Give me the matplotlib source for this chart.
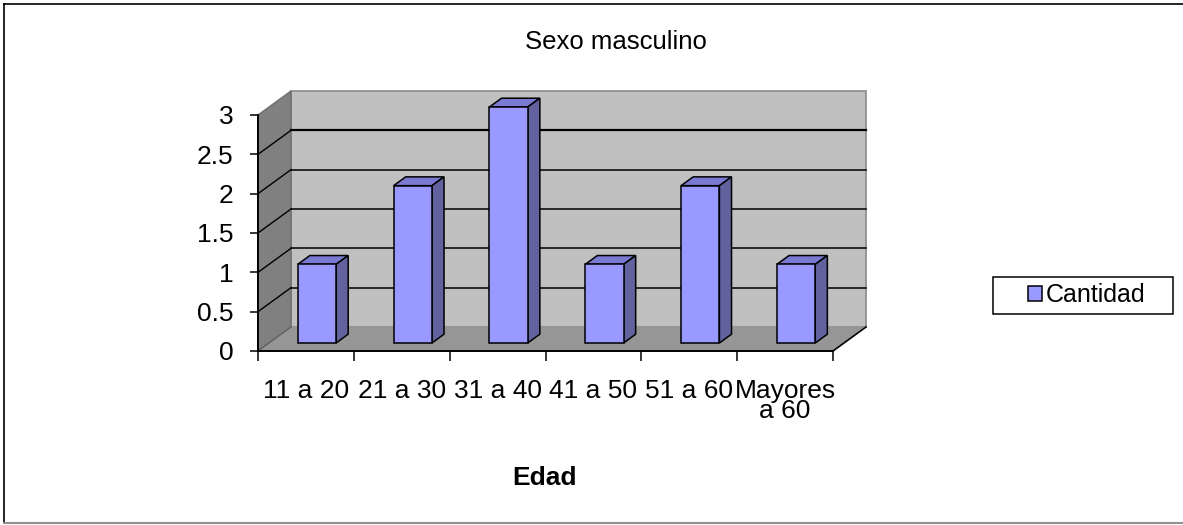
import matplotlib
matplotlib.use("Agg")
from matplotlib import pyplot as plt
from matplotlib.patches import Polygon, Rectangle
from matplotlib.lines import Line2D

plt.rcParams['font.family'] = ['Liberation Sans', 'DejaVu Sans']

categorias = ["11 a 20", "21 a 30", "31 a 40", "41 a 50", "51 a 60", "Mayores\na 60"]
cantidad = [1, 2, 3, 1, 2, 1]
y_ticks = [0, 0.5, 1, 1.5, 2, 2.5, 3]
y_labels = ["0", "0.5", "1", "1.5", "2", "2.5", "3"]

W, H = 1183, 525
fig = plt.figure(figsize=(W / 100, H / 100), dpi=100)

# front plane of the 3d box, in pixels
x0, x1, y0, y1 = 258, 833, 351, 115
ax = fig.add_axes([x0 / W, 1 - y0 / H, (x1 - x0) / W, (y0 - y1) / H])
n = len(categorias)
ax.set_xlim(0, n)
ax.set_ylim(0, 3)
ax.patch.set_visible(False)

# depth of the box (data units)
dx = 33 / ((x1 - x0) / n)
dy = 24 / ((y0 - y1) / 3)

wall_back = '#c0c0c0'
wall_side = '#808080'
floor_c = '#969696'

ax.add_patch(Polygon([(dx, dy), (n + dx, dy), (n + dx, 3 + dy), (dx, 3 + dy)],
                     closed=True, fc=wall_back, ec='#8a8a8a', lw=1.2, clip_on=False, zorder=0))
ax.add_patch(Polygon([(0, 0), (0, 3), (dx, 3 + dy), (dx, dy)],
                     closed=True, fc=wall_side, ec='#707070', lw=1, clip_on=False, zorder=0))
ax.add_patch(Polygon([(0, 0), (n, 0), (n + dx, dy), (dx, dy)],
                     closed=True, fc=floor_c, ec='none', clip_on=False, zorder=1))
ax.plot([n, n + dx], [0, dy], color='black', lw=1.2, clip_on=False, zorder=1.5)
ax.plot([0, dx], [0, dy], color='#606060', lw=1, clip_on=False, zorder=1.5)

for v in y_ticks[1:-1]:
    ax.plot([dx, n + dx], [v + dy, v + dy], color='black', lw=1.6 if v == 2.5 else 1.1,
            clip_on=False, zorder=0.5)
    ax.plot([0, dx], [v, v + dy], color='black', lw=1.0, clip_on=False, zorder=0.5)

# bars
f0, f1 = 0.333, 0.70
bw = 0.4
front = '#9999ff'
top_c = '#7a7ad2'
side_c = '#62629e'
xs = [i + 0.5 + f0 * dx for i in range(n)]
b0 = f0 * dy
bars = ax.bar(xs, cantidad, width=bw, bottom=b0, color=front, edgecolor='black',
              lw=1.1, zorder=3, label='Cantidad', clip_on=False)
ddx = (f1 - f0) * dx
ddy = (f1 - f0) * dy
for x, v in zip(xs, cantidad):
    xl, xr, t = x - bw / 2, x + bw / 2, b0 + v
    ax.add_patch(Polygon([(xl, t), (xr, t), (xr + ddx, t + ddy), (xl + ddx, t + ddy)],
                         closed=True, fc=top_c, ec='black', lw=1.1, zorder=2.5, clip_on=False))
    ax.add_patch(Polygon([(xr, b0), (xr, t), (xr + ddx, t + ddy), (xr + ddx, b0 + ddy)],
                         closed=True, fc=side_c, ec='black', lw=1.1, zorder=2.5, clip_on=False))

for s in ['top', 'right']:
    ax.spines[s].set_visible(False)
for s in ['left', 'bottom']:
    ax.spines[s].set_color('black')
    ax.spines[s].set_linewidth(1.4)
    ax.spines[s].set_zorder(4)

ax.set_xticks(range(n + 1))
ax.set_xticklabels([])
ax.set_xticks([i + 0.5 for i in range(n)], minor=True)
ax.set_xticklabels(categorias, minor=True, fontsize=19, linespacing=0.8)
ax.tick_params(axis='x', which='major', length=7.2, width=1.1, direction='out')
ax.tick_params(axis='x', which='minor', length=0, pad=20)
ax.set_yticks(y_ticks)
ax.set_yticklabels(y_labels, fontsize=19)
ax.tick_params(axis='y', length=5.8, width=1.1, direction='out', pad=12)

fig.text(616 / W, 1 - 49 / H, "Sexo masculino", fontsize=18.5, ha='center', va='baseline')
fig.text(545 / W, 1 - 485 / H, "Edad", fontsize=19, fontweight='bold', ha='center', va='baseline')

# legend
fig.patches.append(Rectangle((993 / W, 1 - 314 / H), 180 / W, 37 / H, transform=fig.transFigure,
                             fill=False, ec='black', lw=1.1))
ax.legend(handles=[bars], loc='center', bbox_to_anchor=(1087 / W, 1 - 295 / H),
          bbox_transform=fig.transFigure, frameon=False, fontsize=18,
          handlelength=0.55, handleheight=0.55, handletextpad=0.15, borderpad=0)

# chart border
fig.add_artist(Line2D([4 / W, 4 / W], [1 - 4 / H, 2 / H], color='black', lw=1.2))
fig.add_artist(Line2D([4 / W, 1], [1 - 4 / H, 1 - 4 / H], color='black', lw=1.2))
fig.add_artist(Line2D([4 / W, 1], [2 / H, 2 / H], color='#909090', lw=1.5))

fig.savefig("out.png", dpi=100)
